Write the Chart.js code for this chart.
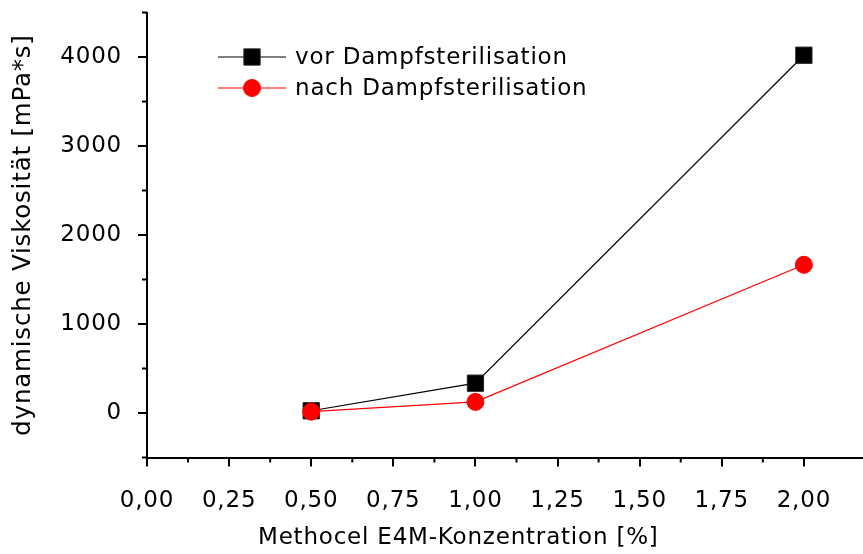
<!DOCTYPE html>
<html>
<head>
<meta charset="utf-8">
<script src="https://cdn.jsdelivr.net/npm/chart.js@4.4.0/dist/chart.umd.min.js"></script>
<style>
  html, body { margin: 0; padding: 0; background: #fff; overflow: hidden; }
  #wrap { width: 863px; height: 554px; }
</style>
</head>
<body>
<div id="wrap"><canvas id="viskChart"></canvas></div>
<script>
// Messwerte
const konzentration = [0.5, 1.0, 2.0];
const vorSterilisation = [25, 335, 4020];
const nachSterilisation = [15, 125, 1665];
const serienNamen = ['vor Dampfsterilisation', 'nach Dampfsterilisation'];
const xTitel = 'Methocel E4M-Konzentration [%]';
const yTitel = 'dynamische Viskosität [mPa*s]';

const schrift = { family: '"DejaVu Sans", sans-serif', size: 23 };
const textFarbe = '#000';
const abstand = '0.8px';

const istMajorX = v => Math.abs(v * 4 - Math.round(v * 4)) < 1e-6;
const istMajorY = v => v >= 0 && v <= 4000 && v % 1000 === 0;
const istStufeX = v => Math.abs(v * 8 - Math.round(v * 8)) < 1e-6;

// Zeichenabstand nach jedem Resize neu setzen
const spacingPlugin = {
    id: 'spacing',
    beforeLayout(chart) { chart.ctx.letterSpacing = abstand; },
    beforeDraw(chart) { chart.ctx.letterSpacing = abstand; }
};

// kurze Zwischenstriche an den Achsen
const minorTicks = {
    id: 'minorTicks',
    afterDraw(chart) {
        const ctx = chart.ctx;
        const { x, y } = chart.scales;
        ctx.save();
        ctx.strokeStyle = '#000';
        ctx.lineWidth = 2;
        ctx.beginPath();
        x.ticks.forEach(t => {
            if (istMajorX(t.value) || !istStufeX(t.value)) return;
            const px = x.getPixelForValue(t.value);
            ctx.moveTo(px, x.top);
            ctx.lineTo(px, x.top + 5);
        });
        y.ticks.forEach(t => {
            if (istMajorY(t.value)) return;
            const py = y.getPixelForValue(t.value);
            ctx.moveTo(y.right, py);
            ctx.lineTo(y.right - 5, py);
        });
        ctx.stroke();
        ctx.restore();
    }
};

// Legende mit Linie durch das Symbol, dazu x-Achsentitel
const legendePlugin = {
    id: 'legende',
    afterDraw(chart) {
        const ctx = chart.ctx;
        ctx.save();
        ctx.letterSpacing = abstand;
        ctx.font = schrift.size + 'px ' + schrift.family;
        ctx.fillStyle = textFarbe;
        ctx.textBaseline = 'middle';
        chart.data.datasets.forEach((ds, i) => {
            const yy = 57 + i * 31;
            ctx.strokeStyle = ds.borderColor;
            ctx.lineWidth = ds.borderWidth;
            ctx.beginPath();
            ctx.moveTo(218, yy);
            ctx.lineTo(286, yy);
            ctx.stroke();
            ctx.fillStyle = ds.pointBackgroundColor;
            ctx.strokeStyle = ds.pointBorderColor;
            ctx.lineWidth = ds.pointBorderWidth;
            Chart.helpers.drawPoint(ctx, {
                pointStyle: ds.pointStyle, radius: ds.pointRadius, rotation: 0, borderWidth: ds.pointBorderWidth
            }, 252, yy);
            ctx.fillStyle = textFarbe;
            ctx.textAlign = 'left';
            ctx.fillText(ds.label, 295, yy + 1);
        });
        ctx.textAlign = 'left';
        ctx.fillText(xTitel, 258, 538);
        ctx.restore();
    }
};

const achse = {
    grid: {
        drawOnChartArea: false,
        tickLength: 9,
        lineWidth: 2,
        color: c => (c.tick && c.tick.label === '') ? 'rgba(0,0,0,0)' : '#000'
    },
    border: { color: '#000', width: 2 }
};

new Chart(document.getElementById('viskChart'), {
    type: 'line',
    data: {
        datasets: [
            {
                label: serienNamen[0],
                data: konzentration.map((k, i) => ({ x: k, y: vorSterilisation[i] })),
                borderColor: '#000',
                borderWidth: 1.2,
                pointStyle: 'rect',
                pointRadius: 11.5,
                pointBackgroundColor: '#000',
                pointBorderColor: '#222',
                pointBorderWidth: 1,
                tension: 0,
                clip: false,
                order: 1
            },
            {
                label: serienNamen[1],
                data: konzentration.map((k, i) => ({ x: k, y: nachSterilisation[i] })),
                borderColor: '#ff0000',
                borderWidth: 1.2,
                pointStyle: 'circle',
                pointRadius: 8.5,
                pointBackgroundColor: '#ff0000',
                pointBorderColor: '#ff0000',
                pointBorderWidth: 1,
                tension: 0,
                clip: false,
                order: 0
            }
        ]
    },
    options: {
        responsive: true,
        maintainAspectRatio: false,
        animation: false,
        layout: { autoPadding: false, padding: { top: 12.5, right: 0, left: 0, bottom: 0 } },
        plugins: { legend: { display: false }, tooltip: { enabled: false } },
        scales: {
            x: {
                type: 'linear',
                min: 0,
                max: 2.18,
                afterFit: s => {
                    s.height = 96.5;
                    s.paddingLeft = 0;
                    s.paddingRight = 0;
                },
                ticks: {
                    stepSize: 0.125,
                    autoSkip: false,
                    maxRotation: 0,
                    minRotation: 0,
                    padding: 21,
                    color: textFarbe,
                    font: schrift,
                    callback: v => (istMajorX(v) && v <= 2) ? v.toFixed(2).replace('.', ',') : ''
                },
                ...achse
            },
            y: {
                min: -500,
                max: 4500,
                afterFit: s => {
                    s.width = 147;
                    s.paddingTop = 0;
                    s.paddingBottom = 0;
                },
                ticks: {
                    stepSize: 500,
                    padding: 16,
                    color: textFarbe,
                    font: schrift,
                    callback: v => istMajorY(v) ? String(v) : ''
                },
                title: {
                    display: true,
                    text: yTitel,
                    color: textFarbe,
                    font: { family: schrift.family, size: 24.5 },
                    padding: { top: 9, bottom: 0 }
                },
                ...achse
            }
        }
    },
    plugins: [spacingPlugin, minorTicks, legendePlugin]
});
</script>
</body>
</html>
